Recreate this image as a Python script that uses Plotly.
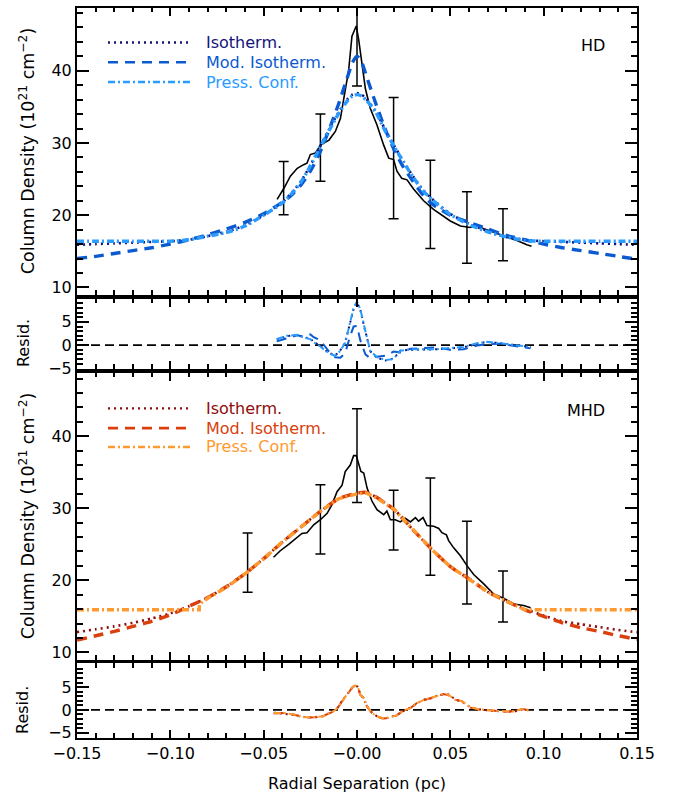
import plotly.graph_objects as go

# ---------------- HD: filament profile (black) ----------------
hd_x = [-0.0428, -0.039, -0.0357, -0.032, -0.0286, -0.0268, -0.025, -0.0223, -0.0196, -0.015,
        -0.0116, -0.0089, -0.0071, -0.0045, -0.0027, -0.0004, 0.0009, 0.0027, 0.0045, 0.0071,
        0.0107, 0.0143, 0.017, 0.0196, 0.0214, 0.024, 0.0268, 0.0304, 0.0357, 0.041,
        0.0464, 0.05, 0.0554, 0.0607, 0.0643, 0.066, 0.0714, 0.0786, 0.0857, 0.091, 0.0935]
hd_y = [22.2, 23.8, 25.4, 26.5, 27.0, 27.2, 28.4, 28.6, 29.7, 30.4,
        31.6, 33.4, 36.1, 40.0, 44.8, 46.2, 44.3, 40.7, 37.5, 34.8,
        32.5, 29.7, 27.9, 27.7, 26.1, 25.1, 24.9, 23.6, 22.0, 20.8,
        19.9, 19.2, 18.5, 18.3, 18.6, 18.3, 17.8, 17.2, 16.5, 15.9, 15.7]

hd_err_x = [-0.0393, -0.0196, 0.0, 0.0196, 0.0393, 0.0589, 0.0782]
hd_err_c = [23.75, 29.35, 46.1, 27.9, 21.5, 18.3, 17.3]
hd_err_h = [3.7, 4.65, 8.2, 8.4, 6.1, 4.95, 3.6]

# HD model fits
hd_gx = [-0.15, -0.14, -0.13, -0.12, -0.11, -0.10, -0.09, -0.08, -0.07, -0.06,
         -0.05, -0.04, -0.035, -0.03, -0.025, -0.02, -0.015, -0.01, -0.005, -0.0025,
         0.0, 0.0025, 0.005, 0.01, 0.015, 0.02, 0.025, 0.03, 0.035, 0.04,
         0.05, 0.06, 0.07, 0.08, 0.09, 0.10, 0.11, 0.12, 0.13, 0.14, 0.15]
hd_iso = [15.9, 16.0, 16.1, 16.2, 16.3, 16.4, 16.6, 17.1, 17.7, 18.6,
          20.0, 21.8, 23.1, 24.7, 26.9, 29.4, 31.9, 34.2, 36.1, 36.7,
          36.9, 36.7, 36.1, 34.4, 31.9, 29.6, 27.4, 25.4, 23.6, 22.3,
          20.2, 18.8, 17.8, 17.0, 16.6, 16.4, 16.3, 16.2, 16.1, 16.0, 15.9]
hd_mod = [14.0, 14.3, 14.7, 15.1, 15.5, 16.0, 16.6, 17.3, 18.1, 19.0,
          20.2, 21.8, 22.8, 24.2, 26.1, 28.6, 31.8, 35.3, 39.2, 41.1,
          42.0, 41.2, 39.3, 35.5, 32.0, 29.0, 26.6, 24.7, 22.9, 21.6,
          20.0, 19.0, 18.1, 17.2, 16.6, 16.0, 15.5, 15.1, 14.7, 14.3, 13.9]
hd_pc = [16.4, 16.4, 16.4, 16.4, 16.4, 16.4, 16.6, 17.1, 17.6, 18.5,
         20.0, 21.7, 23.0, 24.6, 26.8, 29.3, 31.7, 34.0, 35.9, 36.5,
         36.7, 36.5, 35.9, 34.3, 31.7, 29.5, 27.3, 25.3, 23.5, 22.2,
         20.1, 18.7, 17.7, 17.0, 16.5, 16.4, 16.4, 16.4, 16.4, 16.4, 16.4]

# HD residuals (profile minus fit)
hd_rx = [-0.043, -0.0375, -0.032, -0.0286, -0.025, -0.0232, -0.0196, -0.015, -0.0116, -0.0089,
         -0.0063, -0.0036, -0.0018, 0.0, 0.0018, 0.0045, 0.0071, 0.0107, 0.0152, 0.0196,
         0.0232, 0.0286, 0.0357, 0.0429, 0.05, 0.0571, 0.0643, 0.0696, 0.0768, 0.0857, 0.093]
hd_res_iso = [1.2, 1.9, 2.2, 1.7, 1.4, 0.7, -0.2, -1.7, -2.2, -1.1,
              0.6, 5.0, 7.8, 9.2, 7.5, 2.9, -1.3, -2.7, -3.3, -2.9,
              -1.2, -1.0, -1.0, -0.9, -0.7, -0.5, 0.3, 0.7, 0.4, -0.1, -0.4]
hd_res_mod = [0.8, 1.5, 2.1, 1.8, 2.3, 1.7, 1.0, -1.4, -2.6, -2.7,
              -1.7, 2.1, 4.0, 4.1, 1.0, -2.0, -2.8, -2.5, -2.3, -1.4,
              -1.6, -0.8, -0.6, -0.5, -1.0, -0.9, -0.1, 0.2, 0.3, -0.3, -0.7]
hd_res_pc = [1.3, 2.0, 2.2, 1.6, 1.3, 0.6, -0.3, -1.8, -2.3, -1.2,
             0.5, 5.2, 8.0, 9.4, 7.7, 3.0, -1.2, -2.6, -3.2, -3.0,
             -1.2, -0.9, -0.9, -0.9, -0.6, -0.4, 0.4, 0.7, 0.4, -0.1, -0.4]

# ---------------- MHD: filament profile (black) ----------------
mhd_x = [-0.0447, -0.0411, -0.0366, -0.0322, -0.0295, -0.0268, -0.0232, -0.0196, -0.016, -0.0134,
         -0.0107, -0.008, -0.0063, -0.0036, -0.0018, -0.0004, 0.0009, 0.0021, 0.0036, 0.0054,
         0.008, 0.0107, 0.0143, 0.016, 0.0179, 0.0205, 0.0232, 0.0259, 0.0286, 0.0313,
         0.033, 0.0354, 0.0375, 0.0411, 0.0438, 0.0455, 0.0479, 0.0491, 0.0518, 0.0554,
         0.059, 0.0625, 0.0679, 0.0732, 0.0786, 0.084, 0.0893, 0.093]
mhd_y = [23.2, 24.1, 25.0, 25.9, 26.5, 26.6, 27.7, 28.4, 29.3, 30.5,
         32.3, 33.2, 35.1, 36.0, 37.3, 37.3, 36.0, 35.1, 34.9, 32.8,
         31.0, 29.8, 29.1, 29.6, 28.4, 28.4, 28.1, 28.6, 28.1, 28.7,
         28.2, 28.7, 27.6, 27.5, 27.2, 26.6, 26.3, 25.5, 24.5, 23.4,
         22.0, 20.8, 19.5, 18.1, 17.5, 16.7, 16.5, 16.2]

mhd_err_x = [-0.0586, -0.0196, 0.0, 0.0196, 0.0393, 0.0589, 0.0782]
mhd_err_c = [22.45, 28.45, 37.3, 28.35, 27.45, 22.45, 17.75]
mhd_err_h = [4.1, 4.8, 6.5, 4.15, 6.75, 5.75, 3.55]

# MHD model fits
mhd_gx = [-0.15, -0.14, -0.13, -0.12, -0.11, -0.10, -0.09, -0.08, -0.07, -0.06,
          -0.05, -0.04, -0.03, -0.02, -0.01, 0.0, 0.005, 0.01, 0.02, 0.03,
          0.04, 0.05, 0.06, 0.07, 0.08, 0.09, 0.10, 0.11, 0.12, 0.13, 0.14, 0.15]
mhd_iso = [12.8, 13.2, 13.6, 14.1, 14.7, 15.4, 16.4, 17.6, 19.1, 20.9,
           23.0, 25.3, 27.4, 29.5, 31.3, 32.1, 32.1, 31.6, 29.8, 27.0,
           24.3, 21.9, 20.2, 18.4, 17.1, 16.0, 15.1, 14.3, 13.9, 13.5, 13.1, 12.8]
mhd_mod = [11.7, 12.3, 12.9, 13.6, 14.3, 15.2, 16.4, 17.6, 19.1, 20.9,
           23.0, 25.3, 27.4, 29.5, 31.3, 32.1, 32.2, 31.6, 29.8, 27.0,
           24.3, 21.9, 20.2, 18.4, 17.1, 15.9, 15.0, 14.1, 13.4, 12.9, 12.3, 11.8]
mhd_pc_x = [-0.15, -0.12, -0.0845, -0.0844, -0.08, -0.07, -0.06, -0.05, -0.04, -0.03,
            -0.02, -0.01, 0.0, 0.005, 0.01, 0.02, 0.03, 0.04, 0.05, 0.06,
            0.07, 0.08, 0.09, 0.12, 0.15]
mhd_pc = [15.9, 15.9, 15.9, 16.7, 17.5, 19.0, 20.9, 23.0, 25.3, 27.4,
          29.5, 31.3, 32.0, 32.1, 31.5, 29.8, 27.0, 24.3, 21.9, 20.2,
          18.4, 17.1, 15.9, 15.9, 15.9]

# MHD residuals
mhd_rx = [-0.0446, -0.039, -0.0339, -0.0286, -0.0232, -0.0179, -0.0134, -0.0107, -0.008, -0.0054,
          -0.0027, -0.0009, 0.0004, 0.0018, 0.0036, 0.0054, 0.008, 0.0107, 0.0143, 0.0179,
          0.0214, 0.025, 0.0286, 0.0321, 0.0357, 0.0393, 0.0429, 0.0464, 0.0491, 0.0527,
          0.0562, 0.0607, 0.066, 0.0714, 0.0786, 0.084, 0.0884, 0.092]
mhd_res_pc = [-0.7, -0.7, -1.0, -1.6, -1.6, -1.4, -0.5, 0.3, 1.9, 3.3,
              4.9, 5.4, 5.1, 3.3, 2.6, 0.8, -0.7, -1.4, -1.9, -1.6,
              -1.2, -0.1, 0.4, 1.5, 2.2, 2.6, 3.0, 3.5, 3.3, 2.2,
              1.9, 0.6, 0.1, -0.1, -0.3, -0.3, 0.2, -0.1]
mhd_res_iso = [-0.6, -0.8, -1.1, -1.5, -1.7, -1.4, -0.4, 0.3, 2.0, 3.3,
               4.8, 5.3, 5.1, 3.4, 2.5, 0.8, -0.6, -1.4, -2.0, -1.6,
               -1.1, -0.2, 0.5, 1.4, 2.3, 2.5, 3.1, 3.4, 3.4, 2.3,
               1.8, 0.6, 0.1, -0.2, -0.3, -0.4, 0.1, -0.1]
mhd_res_mod = [-0.8, -0.7, -1.0, -1.7, -1.6, -1.3, -0.5, 0.2, 1.9, 3.2,
               4.9, 5.4, 5.0, 3.3, 2.6, 0.7, -0.7, -1.5, -1.9, -1.7,
               -1.2, -0.1, 0.4, 1.5, 2.1, 2.6, 3.0, 3.5, 3.2, 2.2,
               1.9, 0.5, 0.0, -0.1, -0.4, -0.3, 0.2, 0.0]

# axis ticks
x_range = [-0.15, 0.15]
x_ticks = [-0.15, -0.10, -0.05, 0.0, 0.05, 0.10, 0.15]
x_labels = ["\u22120.15", "\u22120.10", "\u22120.05", "\u22120.00", "0.05", "0.10", "0.15"]
col_ticks = [10, 20, 30, 40]
res_ticks = [-5, 0, 5]
res_labels = ["\u22125", "0", "5"]

legend_names = ["Isotherm.", "Mod. Isotherm.", "Press. Conf."]
hd_colors = ["#14147a", "#0b5ad0", "#2a9bff"]
mhd_colors = ["#8e0c0c", "#d9400c", "#ff9a30"]

FONT = "DejaVu Sans"
W, H = 673, 804
L, R = 77, 36
plot_w = W - L - R

def py(p):
    return 1 - p / H

def px(p):
    return (p - L) / plot_w

dom = {
    1: [py(298), py(8)],
    2: [py(373), py(302)],
    3: [py(667), py(377)],
    4: [py(746), py(671)],
}

DOT = "2px,4px"
DASH = "10px,7px"
DASHDOT = "7px,3px,2px,3px"
styles = [(DOT, 2.6), (DASH, 3.4), (DASHDOT, 3.4)]

fig = go.Figure()

def add_profile(xs, ys, ex, ec, eh, gx, models, pcx, colors, xa, ya):
    fig.add_trace(go.Scatter(x=xs, y=ys, mode="lines", xaxis=xa, yaxis=ya,
                             line=dict(color="black", width=1.6), showlegend=False))
    fig.add_trace(go.Scatter(x=ex, y=ec, mode="markers", xaxis=xa, yaxis=ya,
                             marker=dict(size=1, color="rgba(0,0,0,0)"),
                             error_y=dict(type="data", array=eh, color="black",
                                          thickness=1.5, width=5),
                             showlegend=False))
    for i, (m, c, (dash, w)) in enumerate(zip(models, colors, styles)):
        xx = pcx if (i == 2 and pcx is not None) else gx
        shape = "linear" if (i == 2 and pcx is not None) else "spline"
        fig.add_trace(go.Scatter(x=xx, y=m, mode="lines", xaxis=xa, yaxis=ya,
                                 line=dict(color=c, width=w, dash=dash, shape=shape,
                                           smoothing=0.6),
                                 showlegend=False))

def add_resid(rx, res, colors, xa, ya):
    fig.add_trace(go.Scatter(x=x_range, y=[0, 0], mode="lines", xaxis=xa, yaxis=ya,
                             line=dict(color="black", width=1.6, dash="9px,5px"),
                             showlegend=False))
    for r, c, (dash, w) in zip(res, colors, styles):
        fig.add_trace(go.Scatter(x=rx, y=r, mode="lines", xaxis=xa, yaxis=ya,
                                 line=dict(color=c, width=2.0, dash=dash),
                                 showlegend=False))

add_profile(hd_x, hd_y, hd_err_x, hd_err_c, hd_err_h, hd_gx,
            [hd_iso, hd_mod, hd_pc], None, hd_colors, "x", "y")
add_resid(hd_rx, [hd_res_iso, hd_res_mod, hd_res_pc], hd_colors, "x2", "y2")
add_profile(mhd_x, mhd_y, mhd_err_x, mhd_err_c, mhd_err_h, mhd_gx,
            [mhd_iso, mhd_mod, mhd_pc], mhd_pc_x, mhd_colors, "x3", "y3")
add_resid(mhd_rx, [mhd_res_iso, mhd_res_mod, mhd_res_pc], mhd_colors, "x4", "y4")

tickfont = dict(family=FONT, size=16, color="black")

def xaxis(n, show):
    return dict(domain=[0, 1], anchor="y" if n == 1 else f"y{n}", range=x_range,
                tickmode="array", tickvals=x_ticks, ticktext=x_labels,
                showticklabels=show, ticks="inside", ticklen=8, tickwidth=2,
                tickcolor="black", showline=True, linewidth=2, linecolor="black",
                mirror="ticks", showgrid=False, zeroline=False, tickfont=tickfont,
                minor=dict(tickmode="linear", tick0=0, dtick=0.01, ticks="inside",
                           ticklen=4.5, tickwidth=1.5, tickcolor="black", showgrid=False))

def yaxis(n, rng, tv, tt, mdt):
    return dict(domain=dom[n], anchor="x" if n == 1 else f"x{n}", range=rng,
                tickmode="array", tickvals=tv, ticktext=tt,
                ticks="inside", ticklen=12, tickwidth=2, tickcolor="black",
                showline=True, linewidth=2, linecolor="black", mirror="ticks",
                showgrid=False, zeroline=False, tickfont=tickfont,
                minor=dict(tickmode="linear", tick0=0, dtick=mdt, ticks="inside",
                           ticklen=6, tickwidth=1.5, tickcolor="black", showgrid=False))

col_labels = [str(v) for v in col_ticks]
fig.update_layout(
    width=W, height=H, margin=dict(l=L, r=R, t=0, b=0),
    plot_bgcolor="white", paper_bgcolor="white", showlegend=False,
    xaxis=xaxis(1, False), xaxis2=xaxis(2, False), xaxis3=xaxis(3, False), xaxis4=xaxis(4, True),
    yaxis=yaxis(1, [9, 48.7], col_ticks, col_labels, 2),
    yaxis2=yaxis(2, [-5.1, 10], res_ticks, res_labels, 1),
    yaxis3=yaxis(3, [9, 48.8], col_ticks, col_labels, 2),
    yaxis4=yaxis(4, [-6.1, 10.2], res_ticks, res_labels, 1),
)

ann = []
shapes = []
lab_font = dict(family=FONT, size=16, color="black")
ytitle = "Column Density (10<sup>21</sup> cm<sup>\u22122</sup>)"
for yc in (153, 522):
    ann.append(dict(text=ytitle, xref="paper", yref="paper", x=px(27), y=py(yc),
                    textangle=-90, showarrow=False,
                    font=dict(family=FONT, size=17.5, color="black"),
                    xanchor="center", yanchor="middle"))
for yc in (347, 718):
    ann.append(dict(text="Resid.", xref="paper", yref="paper", x=px(23), y=py(yc),
                    textangle=-90, showarrow=False, font=lab_font,
                    xanchor="center", yanchor="middle"))
ann.append(dict(text="Radial Separation (pc)", xref="paper", yref="paper",
                x=px(357), y=py(792), showarrow=False, font=lab_font,
                xanchor="center", yanchor="middle"))
ann.append(dict(text="HD", xref="paper", yref="paper", x=px(607), y=py(46),
                showarrow=False, font=lab_font, xanchor="right", yanchor="middle"))
ann.append(dict(text="MHD", xref="paper", yref="paper", x=px(607), y=py(415),
                showarrow=False, font=lab_font, xanchor="right", yanchor="middle"))

# legend keys
for rows, colors in (([43, 63, 83], hd_colors), ([413, 433, 452], mhd_colors)):
    for yr, name, c, (dash, w) in zip(rows, legend_names, colors, styles):
        shapes.append(dict(type="line", xref="paper", yref="paper",
                           x0=px(108), x1=px(190), y0=py(yr), y1=py(yr),
                           line=dict(color=c, width=2.4 if dash == DOT else 2.6, dash=dash)))
        ann.append(dict(text=name, xref="paper", yref="paper", x=px(204), y=py(yr),
                        showarrow=False, xanchor="left", yanchor="middle",
                        font=dict(family=FONT, size=16, color=c)))

fig.update_layout(annotations=ann, shapes=shapes)
fig.write_html("out.html")
